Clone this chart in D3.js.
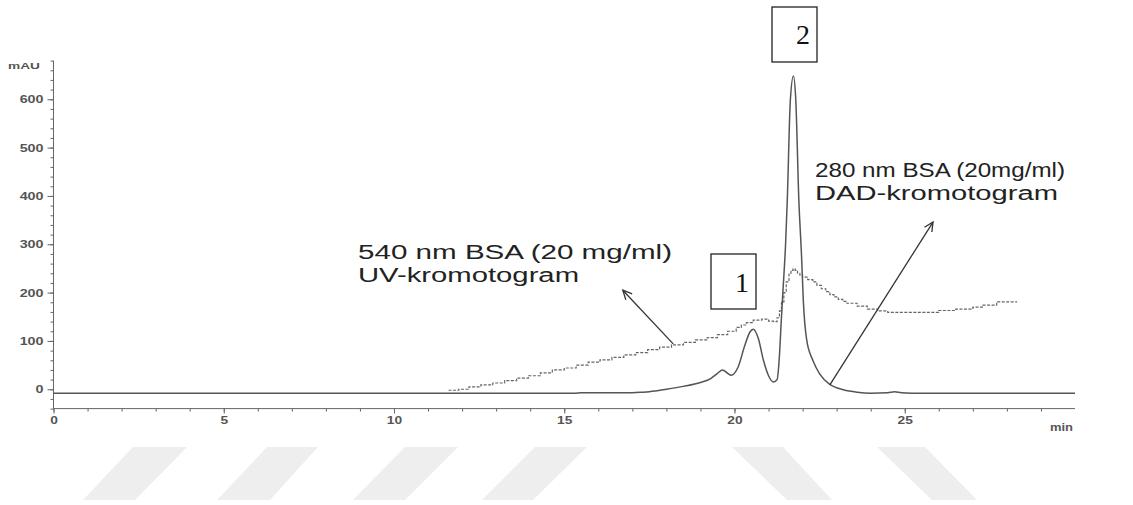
<!DOCTYPE html>
<html>
<head>
<meta charset="utf-8">
<script src="https://cdn.jsdelivr.net/npm/d3@7"></script>
<style>
  body { margin: 0; background: #fff; }
  svg { display: block; font-family: "Liberation Sans", Arial, sans-serif; }
</style>
</head>
<body>
<div id="chart"></div>
<script>
// time (min) / absorbance (mAU)
const dadTime = [0, 15.3, 15.5, 17.0, 17.3, 17.5, 18.0, 18.5, 19.0, 19.3, 19.5, 19.65, 19.8, 19.9, 20.1, 20.3, 20.45, 20.55, 20.7, 20.85, 21.0, 21.15, 21.25, 21.32, 21.37, 21.42, 21.5, 21.55, 21.64, 21.73, 21.8, 21.89, 21.97, 22.02, 22.12, 22.3, 22.5, 22.8, 23.2, 23.6, 24.0, 24.5, 24.7, 24.9, 25.2, 30];
const dadMau  = [-8, -8, -7, -7, -6, -5, 0, 6, 14, 22, 33, 40, 33, 29, 45, 90, 118, 124, 105, 60, 28, 15, 20, 70, 137, 200, 300, 391, 598, 648, 598, 391, 274, 185, 102, 60, 32, 10, -1, -6, -8, -7, -5, -7, -8, -8];

const uvTime = [11.6, 11.9, 12.2, 12.55, 12.9, 13.25, 13.6, 13.95, 14.3, 14.65, 15.0, 15.35, 15.7, 16.05, 16.4, 16.75, 17.1, 17.45, 17.8, 18.15, 18.5, 18.85, 19.2, 19.5, 19.8, 20.05, 20.2, 20.35, 20.55, 20.8, 21.0, 21.15, 21.25, 21.32, 21.38, 21.45, 21.52, 21.6, 21.66, 21.72, 21.78, 21.85, 21.92, 22.0, 22.15, 22.3, 22.42, 22.55, 22.68, 22.8, 22.92, 23.05, 23.18, 23.3, 23.6, 23.9, 24.2, 24.5, 25.8, 26.0, 26.5, 27.0, 27.3, 27.7, 28.3];
const uvMau  = [-2, 0, 5, 9, 13, 18, 23, 28, 34, 40, 44, 50, 56, 61, 66, 71, 76, 82, 87, 92, 97, 102, 107, 113, 120, 128, 133, 138, 143, 145, 141, 140, 148, 162, 180, 200, 222, 240, 246, 249, 246, 240, 236, 232, 227, 222, 215, 208, 202, 196, 191, 186, 182, 178, 172, 166, 162, 159, 159, 163, 166, 170, 174, 181, 181];

const xMajor = [0, 5, 10, 15, 20, 25];
const yMajor = [0, 100, 200, 300, 400, 500, 600];

const W = 1133, H = 505;
const svg = d3.select("#chart").append("svg").attr("width", W).attr("height", H);

// watermark stripes
const stripes = [
  [133, 187, 135, 83], [267, 318, 270, 217], [405, 458, 405, 353],
  [535, 587, 533, 482], [732, 783, 832, 787], [877, 925, 977, 932]
];
svg.append("g").selectAll("polygon").data(stripes).join("polygon")
  .attr("points", (d) => `${d[0]},447 ${d[1]},447 ${d[2]},500 ${d[3]},500`)
  .attr("fill", "#eeeeee");

const x = d3.scaleLinear().domain([0, 30]).range([53.5, 1075]);
const y = d3.scaleLinear().domain([-40, 680]).range([408.6, 60.6]);

const axisColor = "#666";

// stretch text horizontally, the source image is wider than the font
function widen(sel, k) {
  sel.each(function () {
    const w = this.getComputedTextLength();
    d3.select(this).attr("textLength", w * k).attr("lengthAdjust", "spacingAndGlyphs");
  });
}

// y axis
const yAxisG = svg.append("g").attr("transform", `translate(${x(0)},0)`);
yAxisG.call(d3.axisLeft(y).tickValues(d3.range(-40, 681, 20)).tickSize(3).tickFormat(""));
yAxisG.append("g").call(d3.axisLeft(y).tickValues(yMajor).tickSize(6).tickPadding(4));
yAxisG.selectAll(".domain").remove();
yAxisG.selectAll("line").attr("stroke", axisColor);
yAxisG.append("line").attr("y1", y(680)).attr("y2", y(-40)).attr("stroke", axisColor);
yAxisG.selectAll("text").attr("fill", "#555").style("font-size", "11px").style("font-weight", "bold")
  .call(widen, 1.3);
svg.append("text").attr("x", 8).attr("y", 69).text("mAU")
  .attr("fill", "#555").style("font-size", "9px").style("font-weight", "bold")
  .attr("textLength", 32).attr("lengthAdjust", "spacingAndGlyphs");

// x axis
const xAxisG = svg.append("g").attr("transform", `translate(0,${y(-40)})`);
xAxisG.call(d3.axisBottom(x).tickValues(d3.range(0, 30, 1)).tickSize(3).tickFormat(""));
xAxisG.append("g").call(d3.axisBottom(x).tickValues(xMajor).tickSize(5).tickPadding(3));
xAxisG.selectAll(".domain").remove();
xAxisG.selectAll("line").attr("stroke", axisColor);
xAxisG.append("line").attr("x1", x(0)).attr("x2", x(30)).attr("stroke", axisColor);
xAxisG.selectAll("text").attr("fill", "#555").style("font-size", "11px").style("font-weight", "bold")
  .call(widen, 1.25);
svg.append("text").attr("x", x(30) - 2).attr("y", 431).attr("text-anchor", "end")
  .text("min").attr("fill", "#555").style("font-size", "10px").style("font-weight", "bold")
  .attr("textLength", 23).attr("lengthAdjust", "spacingAndGlyphs");

// traces
const dad = dadTime.map((t, i) => [t, dadMau[i]]);
const uv = uvTime.map((t, i) => [t, uvMau[i]]);

svg.append("path").datum(uv)
  .attr("d", d3.line().x((d) => x(d[0])).y((d) => y(d[1])).curve(d3.curveStepAfter))
  .attr("fill", "none").attr("stroke", "#666").attr("stroke-width", 1.2)
  .attr("stroke-dasharray", "3,1.5");

svg.append("path").datum(dad)
  .attr("d", d3.line().x((d) => x(d[0])).y((d) => y(d[1])).curve(d3.curveMonotoneX))
  .attr("fill", "none").attr("stroke", "#555").attr("stroke-width", 1.5);

// annotations
const ink = "#222";
function arrow(x1, y1, x2, y2) {
  const a = Math.atan2(y2 - y1, x2 - x1), L = 10, s = 0.45;
  svg.append("line").attr("x1", x1).attr("y1", y1).attr("x2", x2).attr("y2", y2)
    .attr("stroke", "#333").attr("stroke-width", 1.3);
  svg.append("path")
    .attr("d", `M${x2 - L * Math.cos(a - s)},${y2 - L * Math.sin(a - s)} L${x2},${y2} L${x2 - L * Math.cos(a + s)},${y2 - L * Math.sin(a + s)}`)
    .attr("fill", "none").attr("stroke", "#333").attr("stroke-width", 1.3);
}
arrow(x(18.2), y(94), x(16.72), y(205));
arrow(x(22.8), y(9), x(25.83), y(346));

function label(lines, widths, px, py) {
  const t = svg.append("text").attr("x", px).attr("y", py).attr("fill", ink).style("font-size", "20px");
  lines.forEach((s, i) => t.append("tspan").attr("x", px).attr("dy", i ? 23 : 0)
    .attr("textLength", widths[i]).attr("lengthAdjust", "spacingAndGlyphs").text(s));
}
label(["540 nm BSA (20 mg/ml)", "UV-kromotogram"], [314, 221], 358, 259);
label(["280 nm BSA (20mg/ml)", "DAD-kromotogram"], [250, 243], 815, 177);

function box(bx, by, num, tx, ty) {
  svg.append("rect").attr("x", bx).attr("y", by).attr("width", 45).attr("height", 55)
    .attr("fill", "#fff").attr("stroke", "#222").attr("stroke-width", 1.3);
  svg.append("text").attr("x", tx).attr("y", ty).attr("text-anchor", "middle")
    .style("font-family", "'Liberation Serif', 'Times New Roman', serif").style("font-size", "28px")
    .attr("fill", "#111").text(num);
}
box(711, 254, "1", 742, 292);
box(772, 7, "2", 803, 44);
</script>
</body>
</html>
